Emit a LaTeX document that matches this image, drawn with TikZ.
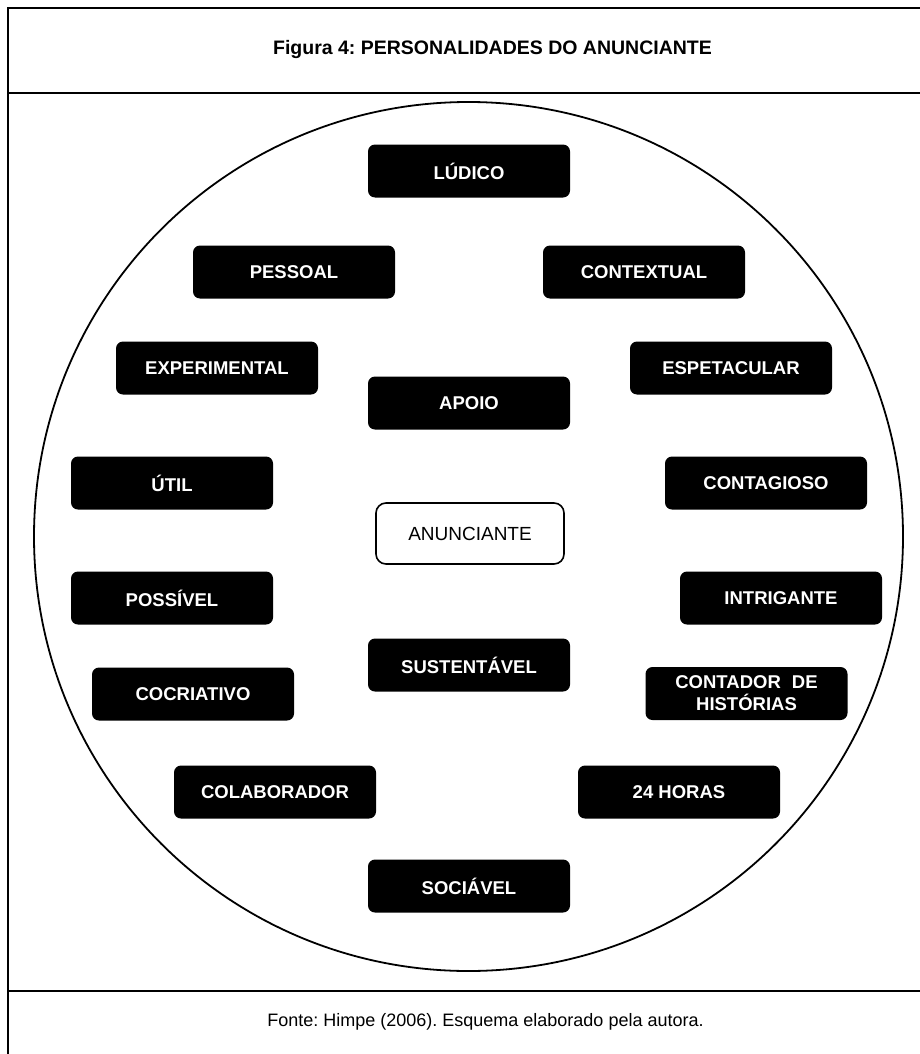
\documentclass[tikz,border=0pt]{standalone}
\usepackage{fontspec}
\setmainfont{Liberation Sans}
\frenchspacing
\begin{document}
\begin{tikzpicture}[x=1pt,y=-1pt,
  blk/.style={fill=black, text=white, rounded corners=7pt, minimum width=202pt, minimum height=53pt, inner sep=0pt, font=\fontsize{18.5}{22}\selectfont\bfseries, align=center},
  center box/.style={draw=black, line width=1.6pt, fill=white, rounded corners=10pt, minimum width=188pt, minimum height=61pt, inner sep=0pt, font=\fontsize{19}{22}\selectfont},
  frame line/.style={line width=2pt, draw=black}]
\useasboundingbox (0,0) rectangle (920,1054);
% frame
\draw[frame line] (8,1054) -- (8,8) -- (920,8);
\draw[frame line] (8,93) -- (920,93);
\draw[frame line] (8,991) -- (920,991);
\node[font=\fontsize{19.5}{22}\selectfont\bfseries] (title) at (492.5,50) {Figura 4: PERSONALIDADES DO ANUNCIANTE};
\node[font=\fontsize{18}{22}\selectfont] (fonte) at (485.5,1022) {Fonte: Himpe (2006). Esquema elaborado pela autora.};
% circle
\draw[line width=1.8pt] (468.5,536.5) circle[radius=434.5pt];
% boxes
\node[blk] (ludico) at (469,171) {LÚDICO};
\node[blk] (pessoal) at (294,272) {PESSOAL};
\node[blk] (contextual) at (644,272) {CONTEXTUAL};
\node[blk] (experimental) at (217,368) {EXPERIMENTAL};
\node[blk] (espetacular) at (731,368) {ESPETACULAR};
\node[blk] (apoio) at (469,403) {APOIO};
\node[blk] (util) at (172,483) {ÚTIL};
\node[blk] (contagioso) at (766,483) {CONTAGIOSO};
\node[center box] (anunciante) at (470,533.5) {ANUNCIANTE};
\node[blk] (possivel) at (172,598) {POSSÍVEL};
\node[blk] (intrigante) at (781,598) {INTRIGANTE};
\node[blk] (sustentavel) at (469,665) {SUSTENTÁVEL};
\node[blk] (cocriativo) at (193,694) {COCRIATIVO};
\node[blk] (contador) at (746.5,693.5) {CONTADOR\hspace{0.6em}DE\\HISTÓRIAS};
\node[blk] (colaborador) at (275,792) {COLABORADOR};
\node[blk] (horas) at (679,792) {24 HORAS};
\node[blk] (sociavel) at (469,886) {SOCIÁVEL};
\end{tikzpicture}
\end{document}
